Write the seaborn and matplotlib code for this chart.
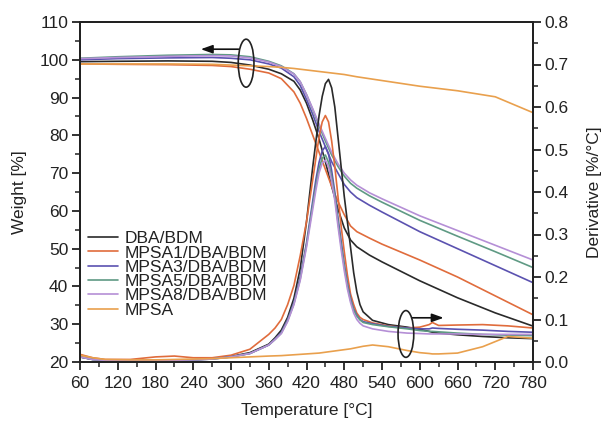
import numpy as np
import pandas as pd
import matplotlib
matplotlib.use("Agg")
import matplotlib.pyplot as plt
from matplotlib.patches import Ellipse
from matplotlib.ticker import MultipleLocator
import seaborn as sns

# ---------------- data ----------------
samples = ["DBA/BDM", "MPSA1/DBA/BDM", "MPSA3/DBA/BDM", "MPSA5/DBA/BDM", "MPSA8/DBA/BDM", "MPSA"]
colors = ["#2a2a2a", "#e06c3c", "#5b52b0", "#5f9a84", "#b58fd6", "#e9a04d"]

# weight curves (left axis)
T_weight = [60, 120, 200, 270, 300, 330, 360, 380, 400, 410, 420, 430, 440, 450, 460, 470, 480, 490, 500, 520, 540, 600, 660, 720, 780]
W_DBA   = [99.5, 99.6, 99.7, 99.6, 99.3, 98.6, 97.5, 96.3, 94.3, 92.0, 88.5, 84.0, 79.0, 73.0, 66.5, 60.5, 55.5, 52.3, 50.5, 48.3, 46.5, 41.5, 37.0, 33.0, 29.5]
W_MPSA1 = [98.9, 98.8, 98.7, 98.5, 98.2, 97.5, 96.5, 95.0, 91.5, 88.5, 84.5, 80.0, 75.5, 71.0, 66.5, 62.5, 59.0, 56.0, 54.5, 52.8, 51.2, 47.0, 42.5, 37.5, 32.5]
W_MPSA3 = [100.0, 100.3, 100.5, 100.6, 100.4, 100.0, 98.9, 97.8, 95.5, 93.2, 89.5, 85.5, 81.0, 77.0, 73.0, 70.0, 67.0, 65.0, 63.5, 61.5, 59.7, 54.5, 50.0, 45.5, 41.0]
W_MPSA5 = [100.4, 100.8, 101.2, 101.4, 101.3, 100.8, 99.6, 98.4, 96.3, 94.2, 90.8, 86.8, 82.5, 78.5, 74.8, 71.8, 69.2, 67.3, 66.0, 64.0, 62.3, 57.5, 53.3, 49.2, 45.0]
W_MPSA8 = [100.3, 100.6, 100.9, 101.1, 101.0, 100.5, 99.4, 98.2, 96.2, 94.2, 90.8, 87.0, 83.0, 79.2, 75.5, 72.5, 70.0, 68.2, 66.8, 64.8, 63.2, 58.7, 54.8, 50.9, 47.0]
W_MPSA  = [98.9, 98.9, 98.9, 98.8, 98.6, 98.4, 98.2, 98.0, 97.7, 97.5, 97.3, 97.1, 96.9, 96.7, 96.5, 96.3, 96.1, 95.8, 95.5, 95.0, 94.5, 93.0, 91.8, 90.2, 86.0]

# derivative curves (right axis)
T_deriv = [60, 80, 100, 140, 180, 210, 240, 270, 300, 330, 360, 370, 380, 390, 400, 410, 420, 430, 435, 440, 445, 450, 455, 460, 465, 470, 475, 480, 485, 490, 495, 500, 505, 510, 525, 550, 580, 600, 615, 620, 630, 660, 700, 740, 780]
D_DBA   = [0.012, 0.006, 0.004, 0.003, 0.003, 0.004, 0.005, 0.008, 0.013, 0.022, 0.042, 0.057, 0.075, 0.105, 0.150, 0.220, 0.330, 0.460, 0.520, 0.580, 0.625, 0.655, 0.665, 0.645, 0.600, 0.530, 0.460, 0.390, 0.330, 0.270, 0.210, 0.165, 0.135, 0.118, 0.098, 0.088, 0.082, 0.077, 0.072, 0.070, 0.068, 0.064, 0.060, 0.057, 0.055]
D_MPSA1 = [0.018, 0.010, 0.006, 0.006, 0.012, 0.014, 0.010, 0.010, 0.016, 0.030, 0.065, 0.080, 0.100, 0.135, 0.180, 0.250, 0.330, 0.430, 0.480, 0.530, 0.565, 0.580, 0.565, 0.520, 0.460, 0.390, 0.320, 0.260, 0.205, 0.160, 0.135, 0.115, 0.105, 0.100, 0.092, 0.085, 0.080, 0.082, 0.088, 0.093, 0.086, 0.087, 0.088, 0.085, 0.080]
D_MPSA3 = [0.012, 0.006, 0.004, 0.003, 0.003, 0.004, 0.005, 0.007, 0.012, 0.020, 0.040, 0.054, 0.070, 0.100, 0.140, 0.200, 0.280, 0.380, 0.430, 0.470, 0.497, 0.507, 0.490, 0.450, 0.400, 0.340, 0.285, 0.230, 0.185, 0.150, 0.125, 0.110, 0.100, 0.095, 0.090, 0.084, 0.080, 0.078, 0.078, 0.080, 0.079, 0.077, 0.075, 0.072, 0.070]
D_MPSA5 = [0.012, 0.006, 0.004, 0.003, 0.003, 0.004, 0.005, 0.007, 0.012, 0.020, 0.040, 0.053, 0.068, 0.097, 0.137, 0.195, 0.275, 0.370, 0.415, 0.455, 0.480, 0.487, 0.470, 0.435, 0.390, 0.330, 0.275, 0.225, 0.180, 0.145, 0.122, 0.108, 0.099, 0.093, 0.088, 0.083, 0.078, 0.074, 0.072, 0.072, 0.071, 0.068, 0.065, 0.063, 0.062]
D_MPSA8 = [0.012, 0.006, 0.004, 0.003, 0.003, 0.004, 0.005, 0.007, 0.012, 0.020, 0.040, 0.053, 0.067, 0.095, 0.135, 0.192, 0.270, 0.360, 0.405, 0.445, 0.468, 0.475, 0.460, 0.425, 0.380, 0.320, 0.265, 0.215, 0.172, 0.140, 0.115, 0.100, 0.091, 0.085, 0.078, 0.072, 0.068, 0.067, 0.066, 0.066, 0.066, 0.066, 0.065, 0.065, 0.065]
D_MPSA  = [0.016, 0.010, 0.006, 0.005, 0.005, 0.006, 0.007, 0.008, 0.010, 0.012, 0.014, 0.0145, 0.015, 0.016, 0.017, 0.018, 0.019, 0.020, 0.0205, 0.021, 0.022, 0.023, 0.024, 0.025, 0.026, 0.027, 0.028, 0.029, 0.030, 0.031, 0.0325, 0.034, 0.0355, 0.037, 0.040, 0.036, 0.027, 0.022, 0.020, 0.019, 0.019, 0.021, 0.036, 0.060, 0.056]

x_ticks = [60, 120, 180, 240, 300, 360, 420, 480, 540, 600, 660, 720, 780]
w_ticks = [20, 30, 40, 50, 60, 70, 80, 90, 100, 110]
d_ticks = [0.0, 0.1, 0.2, 0.3, 0.4, 0.5, 0.6, 0.7, 0.8]

weights = [W_DBA, W_MPSA1, W_MPSA3, W_MPSA5, W_MPSA8, W_MPSA]
derivs = [D_DBA, D_MPSA1, D_MPSA3, D_MPSA5, D_MPSA8, D_MPSA]

wdf = pd.concat([pd.DataFrame({"Temperature": T_weight, "Weight": w, "Sample": s})
                 for s, w in zip(samples, weights)], ignore_index=True)
ddf = pd.concat([pd.DataFrame({"Temperature": T_deriv, "Derivative": d, "Sample": s})
                 for s, d in zip(samples, derivs)], ignore_index=True)

# ---------------- style ----------------
sns.set_style("ticks")
plt.rcParams["font.family"] = ["Liberation Sans", "DejaVu Sans"]
text_color = "#222222"
plt.rcParams["text.color"] = text_color
plt.rcParams["axes.labelcolor"] = text_color
plt.rcParams["xtick.color"] = text_color
plt.rcParams["ytick.color"] = text_color
plt.rcParams["axes.edgecolor"] = "#222222"

fig = plt.figure(figsize=(6.05, 4.21), dpi=100)
ax = fig.add_axes([80 / 605, 1 - 362 / 421, 453 / 605, 340 / 421])
ax2 = ax.twinx()

palette = dict(zip(samples, colors))
sns.lineplot(data=wdf, x="Temperature", y="Weight", hue="Sample", hue_order=samples,
             palette=palette, ax=ax, linewidth=1.2, sort=False, legend=True)
sns.lineplot(data=ddf, x="Temperature", y="Derivative", hue="Sample", hue_order=samples,
             palette=palette, ax=ax2, linewidth=1.2, sort=False, legend=False)

ax.set_xlim(60, 780)
ax.set_ylim(20, 110)
ax2.set_ylim(0.0, 0.8)
ax.set_xticks(x_ticks)
ax.set_yticks(w_ticks)
ax2.set_yticks(d_ticks)
ax2.set_yticklabels([f"{v:.1f}" for v in d_ticks])
ax.xaxis.set_minor_locator(MultipleLocator(30))
ax.yaxis.set_minor_locator(MultipleLocator(5))
ax2.yaxis.set_minor_locator(MultipleLocator(0.05))

fs = 12.5
for a in (ax, ax2):
    for sp in a.spines.values():
        sp.set_visible(True)
        sp.set_linewidth(1.4)
        sp.set_color("#222222")
ax.tick_params(axis="x", which="major", direction="out", length=6, width=1.3, labelsize=fs, pad=4, top=False)
ax.tick_params(axis="x", which="minor", direction="out", length=3.5, width=1.1, top=False)
ax.tick_params(axis="y", which="major", direction="out", length=6, width=1.3, labelsize=fs, pad=2.5, right=False)
ax.tick_params(axis="y", which="minor", direction="out", length=3.5, width=1.1, right=False)
ax2.tick_params(axis="y", which="major", direction="out", length=6, width=1.3, labelsize=fs, pad=2.5)
ax2.tick_params(axis="y", which="minor", direction="out", length=3.5, width=1.1)

ax.set_xlabel("Temperature [°C]", fontsize=fs, labelpad=9)
ax.set_ylabel("Weight [%]", fontsize=fs, labelpad=9)
ax2.set_ylabel("Derivative [%/°C]", fontsize=fs, labelpad=13)

# legend
handles, labels = ax.get_legend_handles_labels()
ax.legend(handles, labels, loc="upper left", bbox_to_anchor=(0.017, 0.385), frameon=False,
          fontsize=fs, handlelength=1.75, handletextpad=0.35, labelspacing=-0.05,
          borderpad=0.0, borderaxespad=0.0)

# annotations: ellipses and arrows
ax.add_patch(Ellipse((324, 99.1), width=25, height=12.7, fill=False, ec="#222222", lw=1.2, zorder=5))
ax.annotate("", xy=(252, 102.8), xytext=(312, 102.8),
            arrowprops=dict(arrowstyle="-|>,head_length=0.7,head_width=0.25", color="#111111", lw=1.2,
                            shrinkA=0, shrinkB=0))
ax2.add_patch(Ellipse((578, 0.066), width=25, height=0.11, fill=False, ec="#222222", lw=1.2, zorder=5))
ax2.annotate("", xy=(638, 0.104), xytext=(588, 0.104),
             arrowprops=dict(arrowstyle="-|>,head_length=0.7,head_width=0.25", color="#111111", lw=1.2,
                             shrinkA=0, shrinkB=0))

fig.savefig("out.png", dpi=100)
